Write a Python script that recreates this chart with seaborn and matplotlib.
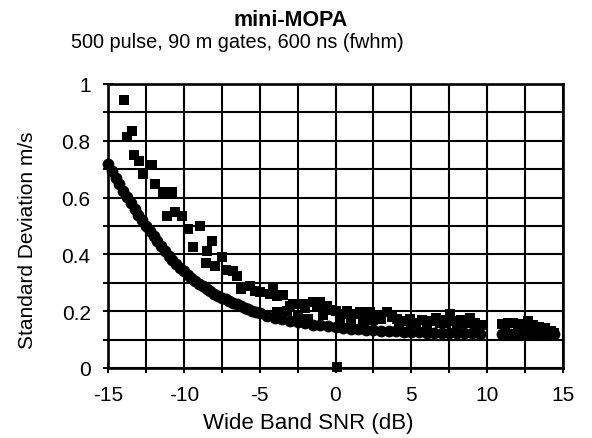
import numpy as np
import pandas as pd
import matplotlib
matplotlib.use("Agg")
import matplotlib.pyplot as plt
import seaborn as sns

# ---- data ----
theory_snr = [-15.0, -14.75, -14.5, -14.25, -14.0, -13.75, -13.5, -13.25, -13.0, -12.75,
              -12.5, -12.25, -12.0, -11.75, -11.5, -11.25, -11.0, -10.75, -10.5, -10.25,
              -10.0, -9.75, -9.5, -9.25, -9.0, -8.75, -8.5, -8.25, -8.0, -7.75,
              -7.5, -7.25, -7.0, -6.75, -6.5, -6.25, -6.0, -5.75, -5.5, -5.25,
              -5.0, -4.5, -4.0, -3.5, -3.0, -2.5, -2.0, -1.5, -1.0, -0.5,
              0.0, 0.5, 1.0, 1.5, 2.0, 2.5, 3.0, 3.5, 4.0, 4.5,
              5.0, 5.5, 6.0, 6.5, 7.0, 7.5, 8.0, 8.5, 9.0, 9.5,
              11.0, 11.5, 12.0, 12.5, 13.0, 13.5, 14.0, 14.4]
theory_sd = [0.720, 0.695, 0.670, 0.647, 0.625, 0.602, 0.580, 0.560, 0.540, 0.520,
             0.500, 0.482, 0.465, 0.447, 0.430, 0.412, 0.395, 0.380, 0.365, 0.352,
             0.340, 0.329, 0.318, 0.307, 0.297, 0.287, 0.278, 0.270, 0.262, 0.255,
             0.248, 0.242, 0.236, 0.230, 0.224, 0.218, 0.212, 0.207, 0.202, 0.197,
             0.192, 0.184, 0.177, 0.171, 0.166, 0.161, 0.157, 0.153, 0.150, 0.147,
             0.144, 0.141, 0.139, 0.137, 0.135, 0.133, 0.131, 0.130, 0.129, 0.128,
             0.127, 0.126, 0.125, 0.124, 0.124, 0.123, 0.123, 0.122, 0.122, 0.121,
             0.120, 0.120, 0.120, 0.119, 0.119, 0.119, 0.118, 0.118]

meas_snr = [-13.95, -13.77, -13.44, -13.27, -12.94, -12.67, -12.12, -11.90, -11.40, -10.80,
            -11.13, -10.58, -10.14, -9.70, -8.94, -8.16, -9.38, -8.50, -8.55, -7.95,
            -7.50, -7.20, -6.74, -6.50, -6.25, -5.64, -5.30, -5.00, -4.32, -4.10,
            -3.88, -3.44, -3.88, -3.00, -2.78, -2.13, -1.47, -1.00, -0.58, -0.30,
            0.05, 0.40, 0.73, 1.20, 1.61, 2.00, 2.27, 2.80, 3.37, 3.70,
            4.03, 4.50, 4.90, 5.30, 5.70, 6.20, 6.60, 7.00, 7.54, 7.90,
            8.30, 8.86, 9.20, 9.60, 11.00, 11.40, 11.70, 12.10, 12.70, 13.00,
            13.40, 13.80, 14.20, -2.50, -1.80, 0.10,
            -3.20, -2.00, -1.20, -0.80, 0.30, 1.00, 1.80, 2.50, 3.00, 4.20,
            5.00, 6.00, 6.90, 7.30, 8.00, 8.60, 9.40, 11.20, 12.00, 12.90,
            13.60, 14.40]
meas_sd = [0.944, 0.815, 0.836, 0.751, 0.730, 0.683, 0.715, 0.648, 0.620, 0.620,
           0.536, 0.548, 0.536, 0.490, 0.501, 0.448, 0.425, 0.413, 0.370, 0.358,
           0.390, 0.345, 0.340, 0.325, 0.278, 0.290, 0.272, 0.266, 0.262, 0.278,
           0.255, 0.258, 0.196, 0.219, 0.225, 0.225, 0.231, 0.231, 0.219, 0.205,
           0.202, 0.190, 0.202, 0.190, 0.196, 0.185, 0.196, 0.180, 0.196, 0.180,
           0.173, 0.165, 0.173, 0.160, 0.170, 0.165, 0.175, 0.170, 0.190, 0.165,
           0.170, 0.176, 0.160, 0.150, 0.155, 0.160, 0.160, 0.155, 0.167, 0.150,
           0.145, 0.140, 0.130, 0.178, 0.172, 0.005,
           0.200, 0.210, 0.215, 0.185, 0.175, 0.170, 0.165, 0.168, 0.172, 0.160,
           0.158, 0.155, 0.158, 0.160, 0.155, 0.160, 0.140, 0.145, 0.145, 0.140,
           0.130, 0.125]

x_major = [-15, -10, -5, 0, 5, 10, 15]
y_major = [0, 0.2, 0.4, 0.6, 0.8, 1]
y_major_labels = ["0", "0.2", "0.4", "0.6", "0.8", "1"]

title = "mini-MOPA"
subtitle = "500 pulse, 90 m gates, 600 ns (fwhm)"
xlabel = "Wide Band SNR (dB)"
ylabel = "Standard Deviation m/s"

# ---- plotting ----
sns.set_theme(style="white")
plt.rcParams['font.family'] = ['Liberation Sans', 'DejaVu Sans']

fig = plt.figure(figsize=(5.92, 4.39), dpi=100)
ax = fig.add_axes([108/592, 1-369/439, 455/592, 284/439])

theory = pd.DataFrame({"snr": theory_snr, "sd": theory_sd})
meas = pd.DataFrame({"snr": meas_snr, "sd": meas_sd})

sns.scatterplot(data=theory, x="snr", y="sd", ax=ax, marker="o", s=72,
                color="black", edgecolor="black", linewidth=0, zorder=3, clip_on=False)
sns.scatterplot(data=meas, x="snr", y="sd", ax=ax, marker="s", s=44,
                color="black", edgecolor="black", linewidth=0, zorder=4, clip_on=False)

ax.set_xlim(-15, 15)
ax.set_ylim(0, 1)
ax.set_xticks(x_major)
ax.set_xticks(np.arange(-15, 15.01, 2.5), minor=True)
ax.set_yticks(y_major)
ax.set_yticklabels(y_major_labels)
ax.set_yticks(np.arange(0, 1.001, 0.1), minor=True)
ax.set_xticklabels([str(v) for v in x_major])

ax.grid(True, which="both", color="black", linewidth=1.5, linestyle="-")
ax.set_axisbelow(True)
for sp in ax.spines.values():
    sp.set_color("black")
    sp.set_linewidth(1.9)
    sp.set_visible(True)

ax.tick_params(axis="both", which="both", direction="inout", length=7, width=1.4,
               color="black", labelsize=15, labelcolor="black")
ax.tick_params(axis="x", which="both", pad=9, bottom=True, top=False)
ax.tick_params(axis="y", which="both", pad=9, left=True, right=False)

ax.set_xlabel(xlabel, fontsize=16, color="black")
ax.set_ylabel(ylabel, fontsize=15, color="black")
ax.xaxis.set_label_coords((308-108)/455, (369-413)/284)
ax.yaxis.set_label_coords((37-108)/455, (369-240)/284)

fig.text(291/592, 1-21/439, title, ha="center", va="center", fontsize=15.5,
         fontweight="bold", color="black")
fig.text(237/592, 1-43/439, subtitle, ha="center", va="center", fontsize=14.3,
         color="black")

fig.savefig("out.png", dpi=100, facecolor="white")
